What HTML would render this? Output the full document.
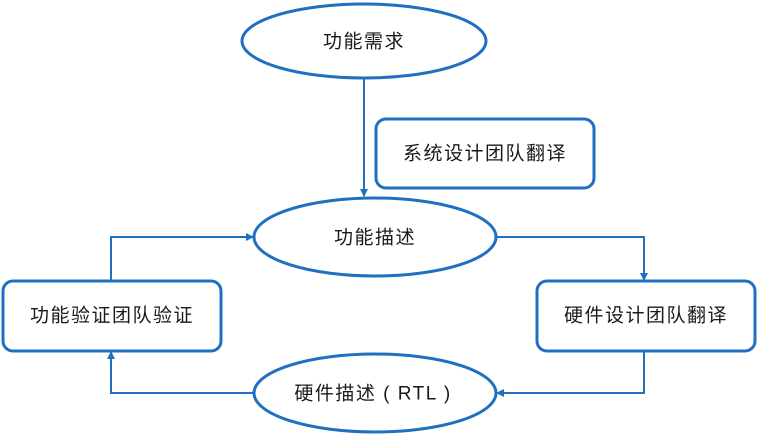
<!DOCTYPE html>
<html><head><meta charset="utf-8"><style>
body{margin:0;background:#fff;}
svg text{font-family:"Liberation Sans","Noto Sans CJK SC",sans-serif;font-size:19px;letter-spacing:1.5px;fill:#1a1a1a;text-anchor:middle;dominant-baseline:central;}
</style></head><body>
<svg width="758" height="435" viewBox="0 0 758 435" xmlns="http://www.w3.org/2000/svg">
<defs><marker id="a" markerWidth="8" markerHeight="8" refX="7" refY="4" orient="auto" markerUnits="userSpaceOnUse"><path d="M0,0 L8,4 L0,8 z" fill="#1f70c1"/></marker></defs>
<g fill="none" stroke="#1f70c1" stroke-width="2">
<path d="M364,79 V196" marker-end="url(#a)"/>
<path d="M111,280 V237 H253" marker-end="url(#a)"/>
<path d="M496,237 H644 V280" marker-end="url(#a)"/>
<path d="M644,351 V393 H497" marker-end="url(#a)"/>
<path d="M254,393 H111 V352" marker-end="url(#a)"/>
</g>
<g fill="#fff" stroke="#1f70c1" stroke-width="3">
<ellipse cx="364" cy="41" rx="122" ry="37"/>
<rect x="376" y="119" width="218" height="69" rx="10"/>
<ellipse cx="375" cy="237" rx="121" ry="39"/>
<rect x="3" y="281" width="218" height="70" rx="10"/>
<rect x="537" y="281" width="218" height="70" rx="10"/>
<ellipse cx="375" cy="393" rx="121" ry="39"/>
</g>
<text x="364" y="42">功能需求</text>
<text x="485" y="154">系统设计团队翻译</text>
<text x="375" y="238">功能描述</text>
<text x="112" y="316">功能验证团队验证</text>
<text x="646" y="316">硬件设计团队翻译</text>
<text x="373" y="394">硬件描述 ( RTL )</text>
</svg>
</body></html>
